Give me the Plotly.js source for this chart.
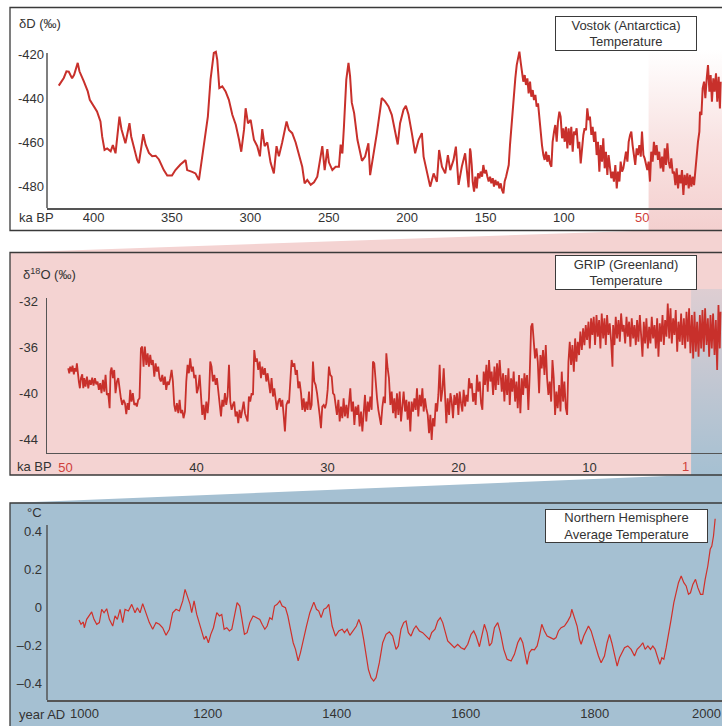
<!DOCTYPE html>
<html><head><meta charset="utf-8">
<script src="https://cdn.plot.ly/plotly-3.0.1.min.js"></script>
<style>html,body{margin:0;padding:0;background:#fff;overflow:hidden}</style>
</head><body><div id="chart" style="width:722px;height:726px"></div>
<script>
// ---------------- DATA ----------------
// Vostok (Antarctica) deuterium: [age ka BP, dD permil]
const vostok = [[422.2,-434.3],[419,-430.8],[417.3,-427.8],[415.8,-428],[413.7,-431],[412.4,-429.4],[410.1,-424],[409,-427.8],[406.2,-432.4],[403.7,-436.9],[402.4,-440.7],[399.9,-443.4],[397.8,-446],[395.6,-450.5],[394.5,-457.4],[393,-463.4],[391.3,-462.7],[389.1,-464],[387.7,-461.2],[386,-464.9],[385,-459],[383.5,-448.3],[382.2,-454],[379.7,-460.4],[378.6,-456.6],[377.1,-451.3],[376,-457.3],[374.3,-461.9],[372.2,-467.9],[371.1,-469.4],[370.1,-464.5],[368.3,-456.3],[366.8,-461],[364.7,-464.7],[362.6,-466.2],[360.4,-466],[358.3,-467.7],[355.2,-472.5],[353,-475],[350,-475],[347.8,-472.5],[344.6,-470],[341.3,-468],[340.3,-472.5],[337.1,-473.3],[335,-474],[332.8,-477],[331.8,-471.7],[329.7,-462.7],[327.1,-448.3],[325.4,-431.6],[323.3,-419.5],[322,-419],[321.1,-422.6],[319.8,-435.4],[317.9,-434.6],[315.8,-436.9],[313.7,-440.7],[311.5,-447.5],[309.3,-452],[307.2,-458.8],[305.8,-464.2],[304,-454],[303,-444.5],[301.5,-451.4],[299.8,-449.8],[297.7,-458.8],[295.6,-461.7],[293.9,-466.3],[292.4,-454],[290.9,-461.7],[289.2,-460],[287.1,-469.1],[285,-474],[283.3,-461.7],[281.8,-466.3],[279.7,-460],[278.2,-455.2],[276.9,-450.5],[275.4,-454.4],[273.3,-455.8],[271.1,-460],[269,-465.6],[266.9,-471],[265.4,-478.5],[263.7,-477],[261.5,-479.2],[259.4,-478],[257.3,-475.5],[255.1,-466.4],[254.1,-461.7],[252.6,-472.5],[250.9,-463],[249.9,-469],[247.7,-472.5],[245.6,-471],[243.5,-471],[242.4,-461],[241.3,-465],[240.3,-452.8],[238.8,-431.6],[237.4,-424],[236.4,-430],[235.3,-442],[233.8,-446.7],[231.7,-458.8],[229.5,-466.3],[228.8,-468.3],[226.8,-466.4],[224.7,-460.4],[223.6,-474.8],[221.5,-466.4],[219.3,-455.8],[217.2,-445.2],[216.2,-439.9],[214.1,-441.4],[211.9,-443.7],[209.8,-447.5],[207.7,-454.4],[206,-460.9],[204.5,-451.3],[202.3,-445.2],[200.8,-443.4],[199.1,-447.5],[197,-455.8],[194.9,-464.9],[192.7,-458.8],[190.6,-455.8],[189.5,-466.4],[187.4,-474],[185.3,-480],[183.1,-474],[181,-477.8],[179.6,-463.4],[177.8,-471],[175.7,-474],[174,-465.7],[172.5,-472.5],[170.4,-467.9],[168.9,-461.9],[167.2,-479.2],[165.1,-470.9],[163,-464.9],[160.8,-480.3],
[159.9,-462.7],[159.5,-464.2],[158.8,-470.2],[158.2,-477.7],[157.3,-482.3],[156.5,-475.5],[155.6,-480.8],[154.8,-474.0],[153.9,-476.2],[153.1,-473.2],[152.2,-475.5],[151.4,-470.2],[150.5,-474.0],[149.7,-472.5],[148.8,-475.5],[148.0,-477.7],[147.1,-475.5],[146.3,-478.5],[145.4,-476.2],[144.6,-480.0],[143.7,-477.0],[142.9,-479.3],[142.0,-477.7],[141.2,-480.8],[140.3,-478.5],[139.5,-481.5],[138.6,-483.0],[137.8,-477.7],[136.9,-475.5],[136.1,-473.2],[135.2,-470.2],[134.4,-461.2],[133.5,-452.1],[132.7,-446.1],[131.8,-435.5],[131.0,-431.0],[130.1,-425.0],[129.3,-421.2],[128.4,-418.9],[127.6,-423.5],[126.7,-428.0],[125.9,-432.5],[125.0,-429.5],[124.2,-434.0],[123.3,-431.0],[122.5,-437.8],[121.6,-432.5],[120.8,-439.3],[119.9,-436.3],[119.1,-440.8],[118.2,-438.5],[117.4,-443.8],[116.5,-442.3],[115.7,-449.1],[114.8,-455.1],[114.0,-461.2],[113.1,-465.7],[112.3,-467.9],[111.4,-464.2],[110.6,-468.7],[109.7,-465.7],[108.9,-469.5],[108.0,-471.0],[107.2,-459.7],[106.3,-455.1],[105.5,-452.1],[104.6,-459.7],[103.8,-450.6],[102.9,-446.1],[102.1,-448.3],[101.2,-458.1],[100.4,-453.6],[99.5,-459.7],[98.7,-452.9],[97.8,-462.7],[97.0,-453.6],[96.1,-461.2],[95.3,-452.9],[94.4,-464.2],[93.6,-455.1],[92.7,-456.6],[91.9,-453.6],[91.0,-462.7],[90.2,-459.7],[89.3,-469.5],[88.5,-461.2],[87.6,-456.6],[86.8,-453.6],[85.9,-454.4],[85.1,-444.6],[84.2,-449.9],[83.4,-448.3],[82.5,-456.6],[81.7,-452.9],[80.8,-459.7],[80.0,-455.1],[79.1,-465.7],[78.3,-459.7],[77.4,-473.2],[76.6,-461.2],[75.7,-468.7],[74.9,-458.1],[74.0,-471.7],[73.2,-464.2],[72.3,-474.7],[71.5,-465.7],[70.6,-471.0],[69.8,-476.2],[68.9,-473.2],[68.1,-477.7],[67.2,-470.2],[66.3,-480.8],[65.5,-473.2],[64.6,-477.7],[63.8,-468.7],[62.9,-473.2],[62.1,-471.7],[61.2,-467.9],[60.4,-464.2],[59.5,-468.7],[58.7,-459.7],[57.8,-456.6],[57.0,-455.1],[56.2,-461.2],[55.3,-467.2],[54.5,-470.2],[53.6,-462.7],[52.8,-465.7],[51.9,-461.2],[51.0,-466.4],[50.2,-455.1],[49.3,-465.7],[48.5,-467.2],[47.7,-470.2],[46.8,-472.5],[46.0,-468.7],[45.1,-477.7],[44.3,-464.2],[43.4,-468.7],[42.6,-459.7],[41.7,-465.7],[40.9,-461.2],[40.0,-467.9],[39.2,-464.2],[38.3,-471.7],[37.4,-466.4],[36.6,-473.2],[35.7,-462.7],[34.9,-470.2],[34.0,-460.4],[33.2,-468.7],[32.3,-471.7],[31.5,-467.2],[30.6,-474.0],[29.8,-473.2],[28.9,-479.3],[28.1,-471.7],[27.2,-480.8],[26.4,-474.7],[25.5,-478.5],[24.7,-472.5],[23.8,-483.8],[23.0,-474.7],[22.1,-479.3],[21.3,-474.0],[20.4,-480.8],[19.6,-474.7],[18.7,-480.0],[17.9,-475.5],[17.0,-479.3],[16.2,-473.2],[15.3,-464.2],[14.5,-459.7],[13.6,-455.1],[13.2,-446.1],[12.3,-447.6],[11.5,-435.5],[10.6,-432.5],[9.8,-440.0],[8.9,-431.0],[8.1,-425.0],[7.2,-437.0],[6.4,-429.5],[5.6,-441.6],[4.7,-431.0],[3.9,-437.0],[3.0,-428.7],[2.2,-441.6],[1.3,-430.3],[0.5,-444.6],[0,-432.5]];

// GRIP (Greenland) d18O: [age ka BP, d18O permil]
const grip = [[49.79,-37.80],[49.71,-38.24],[49.64,-37.66],[49.54,-38.09],[49.46,-37.57],[49.36,-38.33],[49.28,-37.80],[49.20,-38.09],[49.13,-37.37],[49.05,-38.53],[48.98,-38.96],[48.90,-39.55],[48.82,-38.67],[48.72,-38.33],[48.64,-39.55],[48.57,-38.67],[48.47,-39.40],[48.36,-38.53],[48.26,-39.55],[48.16,-38.82],[48.06,-39.25],[47.96,-38.62],[47.86,-39.31],[47.75,-38.67],[47.65,-39.20],[47.55,-38.96],[47.45,-39.69],[47.35,-39.11],[47.25,-39.98],[47.14,-38.82],[47.04,-39.84],[46.94,-38.38],[46.84,-40.13],[46.74,-39.98],[46.63,-41.29],[46.56,-38.09],[46.48,-37.74],[46.38,-38.67],[46.28,-37.95],[46.18,-39.98],[46.07,-38.96],[45.97,-38.67],[45.87,-39.84],[45.77,-40.42],[45.67,-41.0],[45.57,-40.56],[45.46,-40.85],[45.36,-41.81],[45.26,-40.85],[45.16,-41.43],[45.06,-39.69],[44.96,-40.71],[44.86,-39.98],[44.75,-41.0],[44.65,-40.85],[44.55,-41.14],[44.45,-40.56],[44.35,-40.42],[44.24,-36.06],[44.14,-35.92],[44.04,-37.66],[43.94,-35.92],[43.83,-37.51],[43.73,-36.50],[43.63,-37.66],[43.53,-36.64],[43.43,-37.51],[43.33,-37.08],[43.22,-38.53],[43.12,-37.37],[43.02,-38.09],[42.92,-37.66],[42.82,-38.67],[42.72,-38.96],[42.61,-38.38],[42.51,-39.25],[42.41,-38.53],[42.31,-39.69],[42.21,-38.96],[42.11,-39.25],[42.0,-38.67],[41.9,-37.95],[41.8,-38.96],[41.70,-41.0],[41.60,-41.58],[41.50,-40.85],[41.39,-41.72],[41.29,-40.56],[41.19,-41.72],[41.09,-41.43],[40.99,-42.16],[40.88,-41.58],[40.78,-38.96],[40.68,-37.51],[40.58,-38.24],[40.48,-36.93],[40.37,-38.09],[40.27,-37.66],[40.17,-38.67],[40.07,-38.38],[39.97,-39.98],[39.87,-39.55],[39.76,-38.38],[39.66,-40.71],[39.56,-41.87],[39.46,-41.0],[39.36,-42.30],[39.25,-40.71],[39.15,-41.72],[39.05,-40.42],[38.95,-37.22],[38.85,-37.66],[38.75,-38.96],[38.64,-38.38],[38.54,-39.25],[38.44,-38.67],[38.34,-39.84],[38.24,-40.71],[38.13,-42.01],[38.03,-40.56],[37.93,-41.14],[37.83,-39.98],[37.73,-41.0],[37.63,-40.27],[37.52,-37.51],[37.42,-40.71],[37.32,-41.43],[37.22,-41.0],[37.12,-40.71],[37.02,-42.01],[36.91,-41.58],[36.81,-42.59],[36.71,-41.43],[36.61,-42.16],[36.51,-41.58],[36.40,-40.71],[36.30,-41.72],[36.20,-42.16],[36.10,-42.45],[36.0,-40.27],[35.90,-40.71],[35.79,-39.98],[35.69,-40.13],[35.59,-36.21],[35.49,-37.22],[35.39,-36.93],[35.29,-37.95],[35.18,-37.22],[35.08,-38.67],[34.98,-37.66],[34.88,-38.38],[34.78,-37.80],[34.67,-38.96],[34.57,-38.24],[34.47,-39.25],[34.37,-39.98],[34.27,-38.67],[34.16,-40.27],[34.06,-39.55],[33.96,-40.42],[33.86,-41.43],[33.76,-40.71],
[33.65,-40.42],[33.55,-41.14],[33.45,-40.56],[33.35,-41.87],[33.25,-43.32],[33.14,-41.0],[33.04,-40.71],[32.94,-40.85],[32.84,-39.25],[32.74,-37.08],[32.64,-37.66],[32.53,-37.37],[32.43,-38.38],[32.33,-37.95],[32.23,-39.55],[32.13,-38.96],[32.02,-39.98],[31.92,-41.43],[31.82,-40.42],[31.72,-41.58],[31.62,-40.71],[31.52,-41.43],[31.41,-39.84],[31.31,-41.43],[31.21,-41.0],[31.11,-37.22],[31.01,-38.96],[30.91,-39.25],[30.80,-39.98],[30.70,-41.29],[30.60,-41.87],[30.50,-43.03],[30.40,-41.14],[30.29,-41.0],[30.19,-41.29],[30.09,-40.85],[29.99,-39.69],[29.89,-37.66],[29.79,-38.38],[29.68,-38.53],[29.58,-39.98],[29.48,-40.13],[29.38,-41.0],[29.28,-41.87],[29.17,-40.56],[29.07,-42.45],[28.97,-41.14],[28.87,-42.16],[28.77,-40.42],[28.67,-42.01],[28.56,-41.0],[28.46,-42.16],[28.36,-40.85],[28.26,-39.55],[28.16,-41.58],[28.05,-40.71],[27.95,-42.74],[27.85,-41.14],[27.75,-41.87],[27.65,-41.0],[27.55,-42.88],[27.44,-41.58],[27.34,-43.32],[27.24,-41.14],[27.14,-40.13],[27.04,-42.45],[26.93,-40.71],[26.83,-41.58],[26.73,-40.27],[26.63,-41.43],[26.53,-37.22],[26.43,-37.37],[26.32,-39.25],[26.22,-40.42],[26.12,-41.43],[26.02,-42.16],[25.92,-42.74],[25.81,-41.14],[25.71,-40.27],[25.61,-40.85],[25.51,-36.50],[25.41,-37.80],[25.31,-38.67],[25.20,-41.0],[25.10,-39.84],[25.0,-41.72],[24.90,-40.42],[24.80,-42.16],[24.70,-39.98],[24.59,-41.87],[24.49,-39.84],[24.39,-42.45],[24.29,-40.71],[24.19,-39.84],[24.08,-41.58],[23.98,-40.56],[23.88,-42.30],[23.78,-40.71],[23.68,-43.32],[23.58,-40.71],[23.47,-41.58],[23.37,-40.42],[23.27,-41.43],[23.17,-39.55],[23.07,-42.01],[22.96,-40.13],[22.86,-41.14],[22.76,-39.55],[22.66,-41.58],[22.56,-40.42],[22.46,-41.29],[22.35,-41.87],[22.25,-43.47],[22.15,-41.87],[22.05,-44.05],[21.95,-42.16],[21.84,-42.88],[21.74,-40.85],[21.64,-41.58],[21.54,-40.13],[21.44,-37.51],[21.34,-40.71],[21.23,-39.69],[21.13,-37.80],[21.03,-40.13],[20.93,-42.59],[20.83,-40.42],[20.72,-41.87],[20.62,-39.98],[20.52,-40.71],[20.42,-42.16],[20.32,-40.13],[20.22,-41.0],[20.11,-39.98],[20.01,-41.87],[19.91,-39.84],[19.81,-40.85],[19.71,-41.58],[19.61,-39.69],[19.50,-41.14],[19.40,-40.13],[19.30,-40.71],[19.20,-38.67],[19.10,-39.55],[18.99,-39.11],[18.89,-40.71],[18.79,-39.98],[18.69,-41.0],[18.59,-38.38],[18.49,-39.84],[18.38,-38.96],[18.28,-40.85],[18.18,-41.43],[18.08,-38.09],[17.98,-39.25],[17.87,-37.51],[17.77,-39.84],[17.67,-37.08],[17.57,-38.96],[17.47,-38.09],[17.36,-40.13],[17.26,-37.66],[17.16,-39.69],[17.06,-37.37],[16.96,-39.25],[16.86,-37.08],
[16.80,-38.10],[16.70,-39.84],[16.60,-38.24],[16.50,-40.71],[16.40,-38.39],[16.29,-40.13],[16.19,-37.81],[16.09,-41.0],[15.99,-38.68],[15.89,-39.84],[15.79,-38.10],[15.68,-40.71],[15.58,-38.97],[15.48,-41.29],[15.38,-38.39],[15.28,-41.73],[15.17,-38.68],[15.07,-40.13],[14.97,-38.24],[14.87,-39.55],[14.77,-38.39],[14.67,-41.44],[14.56,-38.10],[14.46,-34.18],[14.36,-33.89],[14.26,-35.20],[14.16,-36.94],[14.05,-36.07],[13.95,-37.23],[13.85,-39.99],[13.75,-36.65],[13.65,-37.81],[13.55,-36.21],[13.44,-38.39],[13.34,-35.78],[13.24,-38.68],[13.14,-40.13],[13.04,-38.97],[12.93,-40.71],[12.83,-37.08],[12.73,-38.68],[12.63,-41.87],[12.53,-39.84],[12.43,-41.29],[12.32,-39.26],[12.22,-41.58],[12.12,-38.10],[12.02,-40.71],[11.92,-38.97],[11.81,-41.29],[11.71,-41.87],[11.61,-37.23],[11.51,-35.49],[11.41,-37.52],[11.31,-35.78],[11.20,-38.10],[11.10,-35.20],[11.0,-37.23],[10.90,-35.49],[10.80,-36.65],[10.70,-34.61],[10.59,-36.21],[10.49,-34.32],[10.39,-35.78],[10.29,-34.03],[10.19,-35.34],[10.08,-33.74],[9.98,-36.07],[9.88,-33.45],[9.78,-34.90],[9.68,-33.31],[9.58,-35.78],[9.47,-33.16],[9.37,-35.05],[9.27,-33.60],[9.17,-36.07],[9.07,-33.02],[8.96,-35.20],[8.86,-33.45],[8.76,-35.78],[8.66,-33.16],[8.56,-34.90],[8.46,-33.89],[8.35,-35.49],[8.25,-37.66],[8.20,-34.03],[8.10,-35.78],[8.0,-33.31],[7.90,-35.20],[7.79,-33.60],[7.69,-35.49],[7.59,-33.02],[7.49,-34.61],[7.39,-34.03],[7.28,-35.63],[7.18,-33.31],[7.08,-35.05],[6.98,-33.74],[6.88,-35.92],[6.78,-33.45],[6.67,-35.20],[6.57,-34.03],[6.47,-35.78],[6.37,-33.60],[6.27,-35.49],[6.16,-33.16],[6.06,-35.34],[5.96,-36.79],[5.86,-33.74],[5.76,-35.63],[5.66,-33.45],[5.55,-36.07],[5.45,-34.18],[5.35,-35.63],[5.25,-33.31],[5.15,-35.20],[5.04,-34.03],[4.94,-36.07],[4.84,-33.45],[4.74,-36.79],[4.64,-33.89],[4.54,-35.49],[4.43,-33.16],[4.33,-35.78],[4.23,-33.60],[4.13,-35.05],[4.03,-32.15],[3.92,-35.20],[3.82,-32.58],[3.72,-35.63],[3.62,-33.45],[3.52,-34.90],[3.42,-32.73],[3.31,-36.36],[3.21,-33.74],[3.11,-35.49],[3.01,-33.02],[2.91,-35.78],[2.80,-33.45],[2.70,-36.07],[2.60,-32.87],[2.50,-35.49],[2.40,-32.58],[2.30,-36.50],[2.19,-33.16],[2.09,-36.94],[1.99,-32.87],[1.89,-36.36],[1.79,-33.74],[1.68,-36.79],[1.58,-33.16],[1.48,-36.07],[1.38,-32.73],[1.28,-36.36],[1.18,-32.58],[1.07,-35.78],[0.97,-33.45],[0.87,-36.79],[0.77,-33.16],[0.67,-36.07],[0.57,-33.02],[0.46,-36.65],[0.36,-33.60],[0.26,-37.95],[0.16,-32.29],[0.06,-36.07],[0,-32.87]];

// Northern Hemisphere average temperature: [year AD, anomaly degC]
const nh = [[1000.3,-0.065],[1003.4,-0.088],[1007,-0.076],[1008.6,-0.106],[1012.2,-0.062],[1016.4,-0.044],[1020,-0.023],[1023.6,-0.062],[1027.8,-0.088],[1031.9,-0.079],[1035.5,-0.009],[1039.2,-0.027],[1043.3,-0.006],[1047.4,-0.062],[1052.6,-0.097],[1056.2,-0.044],[1059.8,-0.062],[1064,-0.009],[1068.1,-0.079],[1071.7,-0.009],[1076.9,-0.018],[1082.1,0.017],[1087.2,-0.027],[1090.8,-0.001],[1095,-0.027],[1099.1,0.021],[1104.3,-0.027],[1109.4,-0.079],[1114.6,-0.114],[1119.8,-0.079],[1125,-0.088],[1130.1,-0.106],[1135.3,-0.146],[1140.5,-0.114],[1145.6,-0.027],[1150.8,-0.009],[1156,-0.018],[1161.2,0.035],[1164.8,0.096],[1168.4,0.061],[1172.6,0.017],[1175.1,-0.027],[1178.8,0.035],[1182.9,-0.036],[1187,-0.079],[1190.7,-0.123],[1194.3,-0.167],[1197.4,-0.150],[1201,-0.185],[1204.7,-0.141],[1208.8,-0.106],[1214,-0.027],[1218.1,-0.044],[1221.7,-0.036],[1225.4,-0.114],[1229.5,-0.106],[1233.6,-0.123],[1237.3,-0.114],[1241.4,-0.044],[1245.5,0.026],[1249.7,0.008],[1253.3,-0.079],[1256.9,-0.141],[1261,-0.132],[1265.2,-0.079],[1270.3,-0.044],[1275.5,-0.053],[1280.7,-0.062],[1284.3,-0.088],[1288.5,-0.114],[1292.1,-0.097],[1296.2,-0.053],[1299.8,-0.062],[1303.5,0.008],[1307.6,0.017],[1311.8,0.035],[1315.4,0.008],[1320.5,-0.001],[1324.2,-0.044],[1328.3,-0.114],[1332.5,-0.185],[1336.1,-0.220],[1340.2,-0.281],[1343.8,-0.237],[1348,-0.167],[1353.1,-0.097],[1358.3,-0.027],[1364.5,0.029],[1368.6,-0.009],[1372.2,-0.018],[1375.8,-0.053],[1380,-0.009],[1384.1,-0.001],[1387.7,0.017],[1392.9,-0.097],[1398.1,-0.150],[1403.2,-0.123],[1408.4,-0.114],[1412,-0.132],[1416.2,-0.114],[1420.3,-0.146],[1425.5,-0.123],[1430.6,-0.097],[1434.3,-0.062],[1438,-0.097],[1441.8,-0.167],[1445.5,-0.255],[1449.1,-0.325],[1453.2,-0.369],[1457.3,-0.387],[1461,-0.369],[1466.1,-0.290],[1471.3,-0.185],[1476.5,-0.141],[1481.6,-0.128],[1486.8,-0.150],[1492,-0.220],[1495.6,-0.202],[1499.7,-0.114],[1503.9,-0.079],[1507.5,-0.071],[1511.1,-0.132],[1515.2,-0.150],[1519.4,-0.114],[1523,-0.097],[1528.2,-0.123],[1533.3,-0.132],[1538.5,-0.150],[1543.7,-0.167],[1547.3,-0.132],[1552.5,-0.114],[1556.6,-0.071],[1560.7,-0.053],[1564.4,-0.079],[1568,-0.132],[1572.1,-0.176],[1577.3,-0.193],[1582.5,-0.211],[1587.6,-0.193],[1592.8,-0.211],[1598,-0.220],[1603.2,-0.193],[1608.3,-0.141],[1612.5,-0.123],[1616.1,-0.150],[1621.3,-0.206],[1624.9,-0.150],[1629,-0.088],[1633.2,-0.132],[1636.8,-0.202],[1640.4,-0.185],[1644.6,-0.106],[1649.7,-0.079],[1653.9,-0.132],[1659,-0.220],[1664.2,-0.272],[1670.4,-0.281],[1675.6,-0.246],[1680.7,-0.185],[1684.9,-0.158],[1688.5,-0.185],[1692.1,-0.246],[1695.2,-0.299],[1698.8,-0.237],[1702.5,-0.220],[1706.6,-0.223],[1710.8,-0.202],[1714.4,-0.150],[1718,-0.088],[1722.1,-0.123],[1726.3,-0.150],[1731.4,-0.158],[1736.6,-0.167],[1740.2,-0.158],[1743.9,-0.123],[1748,-0.106],[1753.2,-0.097],[1758.3,-0.071],[1762.5,-0.044],[1764.5,-0.009],[1768.7,-0.053],[1772.8,-0.097],[1776.4,-0.167],[1779,-0.193],[1783.1,-0.150],[1786.8,-0.123],[1790.4,-0.097],[1794.5,-0.123],[1799.7,-0.185],[1805.9,-0.255],[1810,-0.290],[1815.2,-0.255],[1819.3,-0.185],[1823,-0.141],[1826.6,-0.185],[1830.7,-0.255],[1834.9,-0.308],[1838.5,-0.264],[1842.1,-0.237],[1846.3,-0.211],[1851.4,-0.202],[1856.6,-0.220],[1861.8,-0.255],[1865.9,-0.220],[1871.1,-0.202],[1874.7,-0.185],[1878.3,-0.220],[1882.5,-0.202],[1886.6,-0.220],[1890.2,-0.202],[1893.8,-0.220],[1898,-0.272],[1901.1,-0.299],[1904.2,-0.264],[1907.3,-0.272],[1910.9,-0.211],[1914.5,-0.150],[1918.6,-0.062],[1922.8,0.026],[1926.4,0.087],[1930,0.131],[1934.2,0.166],[1938.3,0.131],[1941.9,0.114],[1945.5,0.070],[1948.6,0.078],[1952.3,0.122],[1956.4,0.149],[1960,0.105],[1964.2,0.070],[1967.8,0.070],[1971.4,0.149],[1975.5,0.219],[1979.2,0.307],[1981.7,0.324],[1984.3,0.377],[1986.9,0.468]];

// Tick labels
const vostokTickVals = [400,350,300,250,200,150,100,50,0];
const vostokTickText = ['400','350','300','250','200','150','100','<span style="color:#d0403a">50</span>','0'];
const vostokYTickVals = [-420,-440,-460,-480];
const vostokYTickText = ['-420','-440','-460','-480'];
const gripTickVals = [50,40,30,20,10,0];
const gripTickText = ['<span style="color:#d0403a">50</span>','40','30','20','10','0'];
const gripYTickVals = [-32,-36,-40,-44];
const gripYTickText = ['-32','-36','-40','-44'];
const nhTickVals = [1200,1400,1600,1800];
const nhTickText = ['1200','1400','1600','1800'];
const nhYTickVals = [0.4,0.2,0,-0.2,-0.4];
const nhYTickText = ['0.4','0.2','0','\u20130.2','\u20130.4'];

// zoomed windows
const gripSpanKa = 46;   // GRIP window shown on Vostok axis
const nhSpanKa = 2.25;   // NH window shown on GRIP axis

// ---------------- LAYOUT ----------------
const W = 722, H = 726;
const px = x => x / W, py = y => 1 - y / H;
const oy = y => H - y;
const RED = '#c8302b', TXT = '#333333', AX = '#555555', FR = '#3a3a3a';
const PINK = '#f4d3d2', BLUE = '#a5c0d2';
const FONT = 'Liberation Sans, Arial, Helvetica, sans-serif';

const r1 = [429.7, -0.83], r2 = [51.41, -0.11], r3 = [950.7, 1997.5];
const axL = 47, axR = 722;
const toPx = (r, v) => axL + (v - r[0]) / (r[1] - r[0]) * (axR - axL);
const hx1 = toPx(r1, gripSpanKa);
const hx2 = toPx(r2, nhSpanKa);
const col = (arr, i) => arr.map(p => p[i]);

const decor = [
  {x:[hx1,740,740,hx1,hx1], y:[oy(50),oy(50),oy(230),oy(230),oy(50)], xaxis:'x', yaxis:'y',
   mode:'none', fill:'toself', fillcolor:'rgba(0,0,0,0)',
   fillgradient:{type:'vertical', colorscale:[[0,'rgba(244,208,207,1)'],[0.5,'rgba(244,208,207,0.6)'],[1,'rgba(244,208,207,0)']]}, hoverinfo:'skip'},
  {x:[10,hx1,740,740,10], y:[oy(252.5),oy(230.5),oy(230.5),oy(252.5),oy(252.5)], xaxis:'x', yaxis:'y',
   mode:'none', fill:'toself', fillcolor:PINK, hoverinfo:'skip'},
  {x:[hx2,740,740,hx2,hx2], y:[oy(289),oy(289),oy(475),oy(475),oy(289)], xaxis:'x', yaxis:'y',
   mode:'none', fill:'toself', fillcolor:'rgba(0,0,0,0)',
   fillgradient:{type:'vertical', colorscale:[[0,'rgba(165,192,210,1)'],[1,'rgba(165,192,210,0.28)']]}, hoverinfo:'skip'},
  {x:[10,hx2,740,740,10], y:[oy(503),oy(475),oy(475),oy(503),oy(503)], xaxis:'x', yaxis:'y',
   mode:'none', fill:'toself', fillcolor:BLUE, hoverinfo:'skip'}
];

const traces = decor.concat([
  {x:col(vostok,0), y:col(vostok,1), xaxis:'x2', yaxis:'y2', mode:'lines', line:{color:RED, width:2}},
  {x:col(grip,0), y:col(grip,1), xaxis:'x3', yaxis:'y3', mode:'lines', line:{color:RED, width:1.8}},
  {x:col(nh,0), y:col(nh,1), xaxis:'x4', yaxis:'y4', mode:'lines', line:{color:'#d0302a', width:1.2}}
]);

const tf = {family:FONT, size:13, color:TXT};
const baseX = {showgrid:false, zeroline:false, ticks:'', showline:true, linecolor:AX, linewidth:1.5, tickfont:tf, tickmode:'array', fixedrange:true};
const baseY = {showgrid:false, zeroline:false, ticks:'', showline:false, tickfont:tf, tickmode:'array', fixedrange:true};

const layout = {
  width:W, height:H, margin:{l:0,r:0,t:0,b:0},
  paper_bgcolor:'#ffffff', plot_bgcolor:'rgba(0,0,0,0)', showlegend:false,
  font:{family:FONT, size:13, color:TXT},
  xaxis:{domain:[0,1], range:[0,W], visible:false, fixedrange:true},
  yaxis:{domain:[0,1], range:[0,H], visible:false, fixedrange:true},
  xaxis2:Object.assign({}, baseX, {domain:[px(axL),1], anchor:'y2', range:r1, tickvals:vostokTickVals, ticktext:vostokTickText, ticklabelstandoff:-3}),
  yaxis2:Object.assign({}, baseY, {domain:[py(208.3), py(45)], anchor:'x2', range:[-489.8,-415.9], tickvals:vostokYTickVals, ticktext:vostokYTickText, ticklabelstandoff:2}),
  xaxis3:Object.assign({}, baseX, {domain:[px(axL),1], anchor:'y3', range:r2, tickvals:gripTickVals, ticktext:gripTickText, ticklabelstandoff:2}),
  yaxis3:Object.assign({}, baseY, {domain:[py(452.7), py(298.3)], anchor:'x3', range:[-45.17,-31.7], showline:true, linecolor:AX, linewidth:1.5, tickvals:gripYTickVals, ticktext:gripYTickText, ticklabelstandoff:5}),
  xaxis4:Object.assign({}, baseX, {domain:[px(axL),1], anchor:'y4', range:r3, tickvals:nhTickVals, ticktext:nhTickText, ticklabelstandoff:1}),
  yaxis4:Object.assign({}, baseY, {domain:[py(700), py(515)], anchor:'x4', range:[-0.4866,0.4876], tickvals:nhYTickVals, ticktext:nhYTickText, ticklabelstandoff:4}),
  shapes:[
    {type:'rect', xref:'paper', yref:'paper', x0:px(10), x1:px(740), y0:py(475), y1:py(252.5), fillcolor:PINK, line:{width:0}, layer:'below'},
    {type:'rect', xref:'paper', yref:'paper', x0:px(10), x1:px(740), y0:py(740), y1:py(503), fillcolor:BLUE, line:{width:0}, layer:'below'},
    {type:'rect', xref:'paper', yref:'paper', x0:px(10), x1:px(740), y0:py(230.5), y1:py(7.5), line:{color:FR, width:1.3}, layer:'above'},
    {type:'rect', xref:'paper', yref:'paper', x0:px(10), x1:px(740), y0:py(475), y1:py(252.5), line:{color:FR, width:1.3}, layer:'above'},
    {type:'rect', xref:'paper', yref:'paper', x0:px(10), x1:px(740), y0:py(740), y1:py(503), line:{color:FR, width:1.3}, layer:'above'},
    {type:'line', xref:'x2 domain', yref:'y2', x0:0, x1:0, y0:-419.5, y1:-489.8, line:{color:AX, width:1.5}},
    {type:'line', xref:'x4 domain', yref:'y4', x0:0, x1:0, y0:0.435, y1:-0.4866, line:{color:AX, width:1.5}}
  ],
  annotations:[
    {xref:'paper', yref:'paper', x:px(17), y:py(23.5), xanchor:'left', yanchor:'middle', showarrow:false, text:'\u03b4D (\u2030)', font:tf},
    {xref:'paper', yref:'paper', x:px(21), y:py(274), xanchor:'left', yanchor:'middle', showarrow:false, text:'\u03b4<sup>18</sup>O (\u2030)', font:tf},
    {xref:'paper', yref:'paper', x:px(24.5), y:py(512), xanchor:'left', yanchor:'middle', showarrow:false, text:'\u00b0C', font:tf},
    {xref:'paper', yref:'paper', x:px(17), y:py(217.5), xanchor:'left', yanchor:'middle', showarrow:false, text:'ka BP', font:tf},
    {xref:'paper', yref:'paper', x:px(15), y:py(466), xanchor:'left', yanchor:'middle', showarrow:false, text:'ka BP', font:tf},
    {xref:'paper', yref:'paper', x:px(16.5), y:py(714), xanchor:'left', yanchor:'middle', showarrow:false, text:'year AD', font:tf},
    {xref:'x3', yref:'paper', x:nhSpanKa, y:py(466), xanchor:'right', yanchor:'middle', showarrow:false, text:'1', font:{family:FONT, size:13, color:'#d0403a'}},
    {xref:'paper', yref:'paper', x:px(84.7), y:py(713), xanchor:'center', yanchor:'middle', showarrow:false, text:'1000', font:tf},
    {xref:'paper', yref:'paper', x:px(706), y:py(713), xanchor:'center', yanchor:'middle', showarrow:false, text:'2000', font:tf},
    {xref:'paper', yref:'paper', x:px(626), y:py(33.5), xanchor:'center', yanchor:'middle', showarrow:false, text:'Vostok (Antarctica)<br>Temperature', font:tf, bgcolor:'#ffffff', bordercolor:FR, borderwidth:1, borderpad:0, width:140, height:33},
    {xref:'paper', yref:'paper', x:px(626), y:py(272.5), xanchor:'center', yanchor:'middle', showarrow:false, text:'GRIP (Greenland)<br>Temperature', font:tf, bgcolor:'#ffffff', bordercolor:FR, borderwidth:1, borderpad:0, width:140, height:33},
    {xref:'paper', yref:'paper', x:px(626.5), y:py(525.5), xanchor:'center', yanchor:'middle', showarrow:false, text:'Northern Hemisphere<br>Average Temperature', font:tf, bgcolor:'#ffffff', bordercolor:FR, borderwidth:1, borderpad:0, width:161, height:32}
  ]
};

Plotly.newPlot('chart', traces, layout, {staticPlot:true, displayModeBar:false});
</script></body></html>
